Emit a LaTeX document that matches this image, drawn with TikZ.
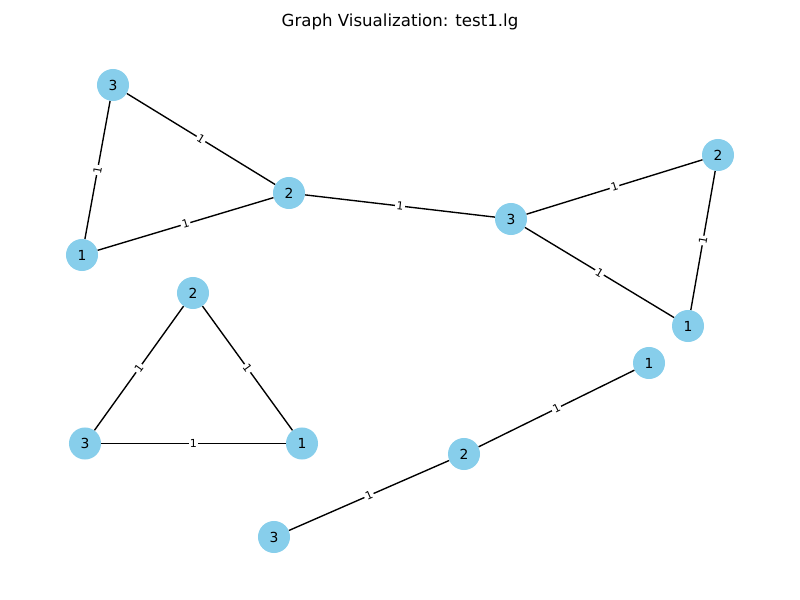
\documentclass[tikz,border=0pt]{standalone}
\usepackage{fontspec}
\setmainfont{DejaVu Sans}
\definecolor{skyblue}{HTML}{87CEEB}
\tikzset{
  vert/.style={circle,fill=skyblue,draw=none,minimum size=0.32in,inner sep=0pt,font=\fontsize{10}{12}\selectfont},
  wedge/.style={draw=black,line width=1pt},
  wlab/.style={midway,sloped,fill=white,inner sep=1pt,font=\fontsize{8}{9}\selectfont}
}
\begin{document}
\begin{tikzpicture}[x=0.01in,y=-0.01in]
\useasboundingbox (0,0) rectangle (800,600);
\node[font=\fontsize{12}{14}\selectfont] (title) at (400,22) {Graph Visualization: test1.lg};
\node[vert] (a3) at (113,85) {3};
\node[vert] (a2) at (289,193) {2};
\node[vert] (a1) at (82,255) {1};
\node[vert] (b3) at (511,219) {3};
\node[vert] (b2) at (718,155) {2};
\node[vert] (b1) at (688,326) {1};
\node[vert] (c2) at (193,293) {2};
\node[vert] (c3) at (85,443.5) {3};
\node[vert] (c1) at (302,443.5) {1};
\node[vert] (d1) at (649,363) {1};
\node[vert] (d2) at (464,454) {2};
\node[vert] (d3) at (274,537) {3};
\draw[wedge] (a3) -- node[wlab]{1} (a2);
\draw[wedge] (a3) -- node[wlab]{1} (a1);
\draw[wedge] (a1) -- node[wlab]{1} (a2);
\draw[wedge] (a2) -- node[wlab]{1} (b3);
\draw[wedge] (b3) -- node[wlab]{1} (b2);
\draw[wedge] (b3) -- node[wlab]{1} (b1);
\draw[wedge] (b2) -- node[wlab]{1} (b1);
\draw[wedge] (c2) -- node[wlab]{1} (c3);
\draw[wedge] (c2) -- node[wlab]{1} (c1);
\draw[wedge] (c3) -- node[wlab]{1} (c1);
\draw[wedge] (d1) -- node[wlab]{1} (d2);
\draw[wedge] (d2) -- node[wlab]{1} (d3);
\end{tikzpicture}
\end{document}
